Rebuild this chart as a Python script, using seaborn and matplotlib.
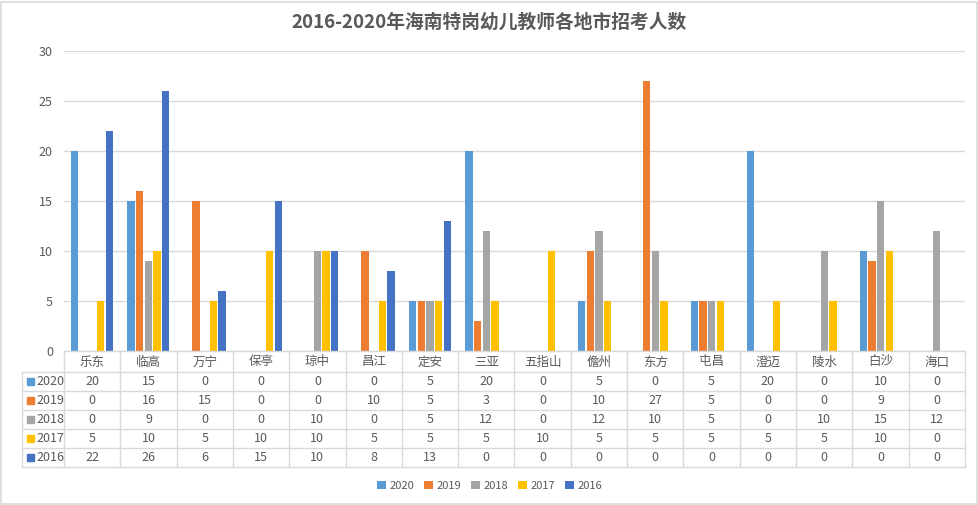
import pandas as pd
import numpy as np
import matplotlib
matplotlib.use("Agg")
import matplotlib.pyplot as plt
import seaborn as sns
from matplotlib.patches import Patch, Rectangle
from matplotlib.lines import Line2D
from matplotlib.transforms import blended_transform_factory

# ===============================
# DATA
# ===============================
cities = ["乐东", "临高", "万宁", "保亭", "琼中", "昌江", "定安", "三亚", "五指山",
          "儋州", "东方", "屯昌", "澄迈", "陵水", "白沙", "海口"]
years = ["2020", "2019", "2018", "2017", "2016"]

v2020 = [20, 15, 0, 0, 0, 0, 5, 20, 0, 5, 0, 5, 20, 0, 10, 0]
v2019 = [0, 16, 15, 0, 0, 10, 5, 3, 0, 10, 27, 5, 0, 0, 9, 0]
v2018 = [0, 9, 0, 0, 10, 0, 5, 12, 0, 12, 10, 5, 0, 10, 15, 12]
v2017 = [5, 10, 5, 10, 10, 5, 5, 5, 10, 5, 5, 5, 5, 5, 10, 0]
v2016 = [22, 26, 6, 15, 10, 8, 13, 0, 0, 0, 0, 0, 0, 0, 0, 0]

colors = ["#5B9BD5", "#ED7D31", "#A5A5A5", "#FFC000", "#4472C4"]
title = "2016-2020年海南特岗幼儿教师各地市招考人数"

series = [v2020, v2019, v2018, v2017, v2016]
rows = []
for yr, vals in zip(years, series):
    for c, v in zip(cities, vals):
        rows.append({"city": c, "year": yr, "value": v})
df = pd.DataFrame(rows)

# ===============================
# STYLE
# ===============================
sns.set_theme(style="white")
plt.rcParams["font.family"] = ["Noto Sans CJK SC", "DejaVu Sans"]
TXT = "#595959"
GRID = "#D9D9D9"

W, H = 979, 505
def fx(px):
    return px / W
def fy(py):
    return 1 - py / H

fig = plt.figure(figsize=(W / 100, H / 100), dpi=100)
fig.patch.set_facecolor("white")
fig.add_artist(Rectangle((0.001, 0.001), 0.997, 0.996, transform=fig.transFigure,
                         fill=False, edgecolor=GRID, lw=1.2))

ax = fig.add_axes([fx(64), fy(351), fx(965) - fx(64), fy(51) - fy(351)])

sns.barplot(data=df, x="city", y="value", hue="year", order=cities,
            hue_order=years, palette=colors, saturation=1, width=0.77, gap=0.16,
            linewidth=0, errorbar=None, legend=False, ax=ax)

ax.set_xlim(-0.5, len(cities) - 0.5)
ax.set_ylim(0, 30)
ax.set_yticks(range(0, 31, 5))
ax.set_xticks([])
ax.set_xlabel("")
ax.set_ylabel("")
ax.tick_params(axis="y", length=0, pad=8, labelsize=9, labelcolor=TXT)
ax.yaxis.grid(True, color=GRID, lw=1)
ax.set_axisbelow(True)
for s in ax.spines.values():
    s.set_visible(False)

fig.text(0.5, fy(22), title, ha="center", va="center", fontsize=13.5,
         fontweight="bold", color=TXT)

# ===============================
# DATA TABLE
# ===============================
tr = blended_transform_factory(ax.transData, fig.transFigure)
row_lines = [372, 391, 410, 429, 448, 467]
n = len(cities)

# horizontal lines
fig.add_artist(Line2D([fx(64), fx(965)], [fy(351), fy(351)], color=GRID, lw=1,
                      transform=fig.transFigure))
for y in row_lines:
    fig.add_artist(Line2D([fx(22), fx(965)], [fy(y), fy(y)], color=GRID, lw=1,
                          transform=fig.transFigure))
# vertical lines
for i in range(n + 1):
    fig.add_artist(Line2D([i - 0.5, i - 0.5], [fy(351), fy(467)], color=GRID, lw=1,
                          transform=tr))
fig.add_artist(Line2D([fx(22), fx(22)], [fy(372), fy(467)], color=GRID, lw=1,
                      transform=fig.transFigure))

# header
for i, c in enumerate(cities):
    fig.text(i, fy(362), c, transform=tr, ha="center", va="center",
             fontsize=9, color=TXT)

# rows
for r, (yr, vals, col) in enumerate(zip(years, series, colors)):
    yc = (row_lines[r] + row_lines[r + 1]) / 2
    fig.add_artist(Rectangle((fx(27), fy(yc + 3.5)), fx(7), 7 / H, color=col,
                             transform=fig.transFigure))
    fig.text(fx(36), fy(yc), yr, ha="left", va="center", fontsize=9, color=TXT)
    for i, v in enumerate(vals):
        fig.text(i, fy(yc), str(v), transform=tr, ha="center", va="center",
                 fontsize=9, color=TXT)

# ===============================
# LEGEND
# ===============================
handles = [Patch(facecolor=c, edgecolor="none", label=y) for y, c in zip(years, colors)]
fig.legend(handles=handles, loc="center", bbox_to_anchor=(0.5, fy(486)), ncol=5,
           frameon=False, fontsize=8, handlelength=0.8, handleheight=0.8,
           handletextpad=0.3, columnspacing=0.9, labelcolor=TXT)

fig.savefig("out.png", dpi=100)
